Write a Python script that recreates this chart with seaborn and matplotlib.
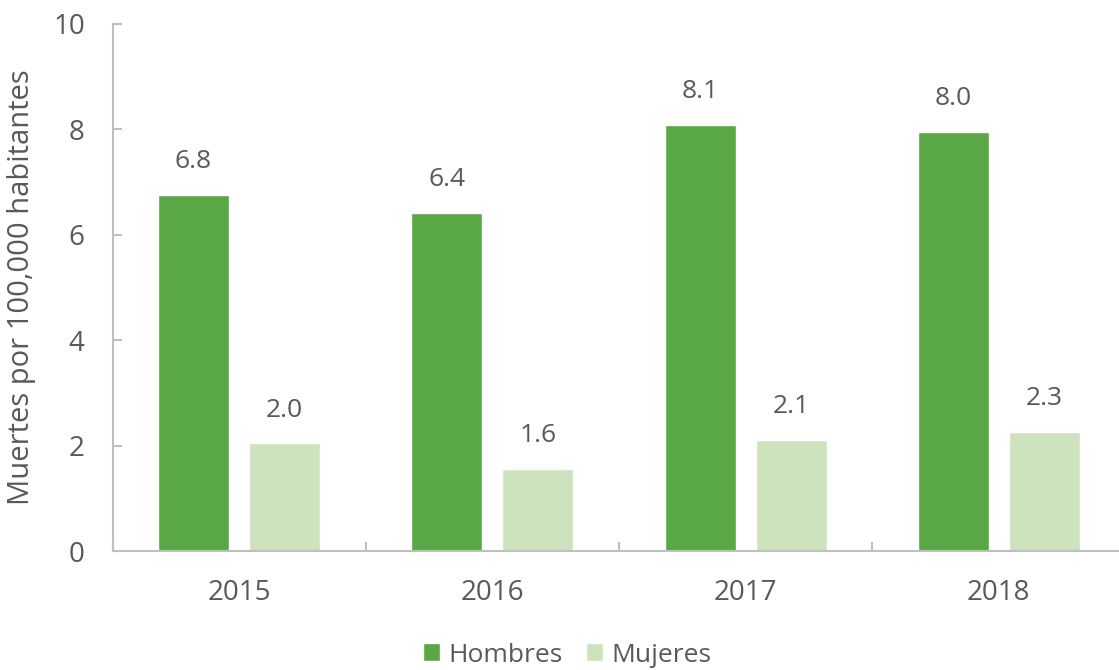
import matplotlib
matplotlib.use("Agg")
import matplotlib.pyplot as plt
import seaborn as sns
import pandas as pd

years = ["2015", "2016", "2017", "2018"]
hombres = [6.76, 6.41, 8.08, 7.96]
mujeres = [2.04, 1.56, 2.11, 2.26]
series_names = ["Hombres", "Mujeres"]
colors = ["#5AA745", "#CCE3BD"]

df = pd.DataFrame({
    "year": years * 2,
    "value": hombres + mujeres,
    "sexo": [series_names[0]] * len(years) + [series_names[1]] * len(years),
})

sns.set_theme(style="white")
plt.rcParams["font.family"] = ["Open Sans", "DejaVu Sans"]
text_color = "#595959"
axis_color = "#BFBFBF"

fig = plt.figure(figsize=(11.19, 6.70), dpi=100)
ax = fig.add_axes([112.5 / 1119, 1 - 551 / 670, 1013 / 1119, (551 - 24) / 670])

sns.barplot(data=df, x="year", y="value", hue="sexo", palette=colors,
            width=0.72, gap=0.222, ax=ax, legend=True, saturation=1)

for cont in ax.containers:
    ax.bar_label(cont, labels=[f"{v:.1f}" for v in cont.datavalues],
                 padding=15, fontsize=19, color=text_color)

ax.set_xlim(-0.5, 3.5)
ax.set_ylim(0, 10)
ax.set_yticks([0, 2, 4, 6, 8, 10])
ax.set_xlabel("")
ax.set_ylabel("Muertes por 100,000 habitantes", fontsize=21, color=text_color, labelpad=12)

for s in ["top", "right"]:
    ax.spines[s].set_visible(False)
for s in ["left", "bottom"]:
    ax.spines[s].set_color(axis_color)
    ax.spines[s].set_linewidth(1.5)

ax.tick_params(axis="y", direction="in", length=6.5, color=axis_color, width=1.5,
               labelsize=20, labelcolor=text_color, pad=20, left=True)
ax.tick_params(axis="x", which="major", length=0, labelsize=20, labelcolor=text_color, pad=20)
ax.set_xticks([-0.5, 0.5, 1.5, 2.5], minor=True)
ax.tick_params(axis="x", which="minor", direction="in", length=6.5, color=axis_color, width=1.5, bottom=True)

handles, labels = ax.get_legend_handles_labels()
leg = ax.legend(handles, labels, loc="center", bbox_to_anchor=(567 / 1119, 1 - 655 / 670),
                bbox_transform=fig.transFigure,
                ncol=2, frameon=False, fontsize=19, labelcolor=text_color,
                handlelength=0.65, handleheight=0.65, handletextpad=0.3, columnspacing=0.9)

fig.savefig("out.png", dpi=100)
